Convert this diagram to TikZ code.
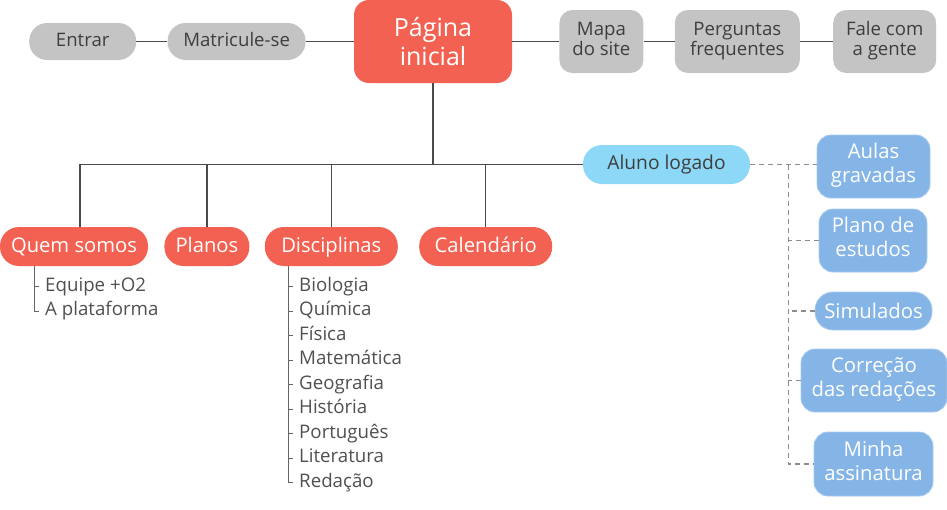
\documentclass[tikz,border=0pt]{standalone}
\usepackage{fontspec}
\setmainfont{Open Sans}
\usetikzlibrary{positioning}

\definecolor{pagered}{HTML}{F26152}
\definecolor{pillgrey}{HTML}{C4C4C4}
\definecolor{pilltext}{HTML}{3E3E3E}
\definecolor{loggedblue}{HTML}{8DD7F7}
\definecolor{boxblue}{HTML}{85B5E7}
\definecolor{boxedge}{HTML}{A6CBF0}
\definecolor{itemtext}{HTML}{505050}
\definecolor{linkgrey}{HTML}{4A4A4A}
\definecolor{dashgrey}{HTML}{8C8C8C}

\tikzset{
	greypill/.style = {fill = pillgrey, text = pilltext, rounded corners = 18pt, minimum height = 37pt, inner sep = 0pt, text height = 14pt, text depth = 5pt, font = \fontsize{18.6}{20}\selectfont},
	greybox/.style = {fill = pillgrey, text = pilltext, rounded corners = 13pt, minimum height = 63pt, inner sep = 0pt, align = center, execute at begin node = \strut, execute at end node = \strut, font = \fontsize{18.6}{20}\selectfont},
	redpill/.style = {fill = pagered, text = white, rounded corners = 19pt, minimum height = 39pt, inner sep = 0pt, text height = 16pt, text depth = 4pt, font = \fontsize{20.2}{24}\selectfont},
	logpill/.style = {fill = loggedblue, text = pilltext, rounded corners = 19pt, minimum height = 39pt, inner sep = 0pt, text height = 14.5pt, text depth = 5pt, font = \fontsize{19.2}{24}\selectfont},
	bluebox/.style = {fill = boxblue, draw = boxedge, line width = 0.8pt, text = white, rounded corners = 14pt, inner sep = 0pt, align = center, execute at begin node = \rule{0pt}{21pt}, execute at end node = \rule[-7pt]{0pt}{7pt}, font = \fontsize{20.3}{24}\selectfont},
	subitem/.style = {text = itemtext, anchor = west, inner xsep = 6pt, inner ysep = 0pt, text height = 13pt, text depth = 4pt, font = \fontsize{18.7}{24}\selectfont},
	link/.style = {draw = linkgrey, line width = 1.2pt},
	sublink/.style = {draw = linkgrey!85, line width = 1pt},
	dashlink/.style = {draw = dashgrey, line width = 1.2pt, dash pattern = on 5pt off 4pt}
}

\begin{document}
\begin{tikzpicture}[x = 1pt, y = -1pt]
	\useasboundingbox (0,0) rectangle (947,509);

	% top row
	\node (home)[fill = pagered, text = white, rounded corners = 15pt, minimum width = 158pt, minimum height = 83pt, inner sep = 0pt, align = center, font = \fontsize{25}{29.5}\selectfont] at (433,41.5) {Página\\inicial};
	\node (matr)[greypill, minimum width = 138pt, anchor = east, xshift = -48pt] at (home.west) {Matricule-se};
	\node (ent)[greypill, minimum width = 107pt, anchor = east, xshift = -31pt] at (matr.west) {Entrar};
	\node (map)[greybox, minimum width = 84pt, anchor = west, xshift = 47pt] at (home.east) {Mapa\\do site};
	\node (faq)[greybox, minimum width = 125pt, anchor = west, xshift = 31pt] at (map.east) {Perguntas\\frequentes};
	\node (fale)[greybox, minimum width = 103pt, anchor = west, xshift = 33pt] at (faq.east) {Fale com\\a gente};

	% second level
	\node (qs)[redpill, minimum width = 148pt] at (74,246.5) {Quem somos};
	\node (pl)[redpill, minimum width = 85pt, anchor = west, xshift = 16pt] at (qs.east) {Planos};
	\node (dis)[redpill, minimum width = 133pt, anchor = west, xshift = 15pt] at (pl.east) {Disciplinas};
	\node (cal)[redpill, minimum width = 133pt, anchor = west, xshift = 21pt] at (dis.east) {Calendário};
	\node (alu)[logpill, minimum width = 167pt] at (666.5,164.5) {Aluno logado};

	% logged area
	\node (aul)[bluebox, minimum width = 113pt, minimum height = 63pt] at (873.5,166.5) {Aulas\\gravadas};
	\node (pe)[bluebox, minimum width = 108pt, minimum height = 63pt] at (873,240.5) {Plano de\\estudos};
	\node (sim)[bluebox, minimum width = 117pt, minimum height = 38pt, rounded corners = 18pt] at (873.5,311) {Simulados};
	\node (cor)[bluebox, minimum width = 146pt, minimum height = 63pt] at (874,380.5) {Correção\\das redações};
	\node (ass)[bluebox, minimum width = 119pt, minimum height = 64pt] at (873.5,464) {Minha\\assinatura};

	% sub lists
	\node (eq)[subitem] at (39,286.5) {Equipe +O2};
	\node (plat)[subitem] at (39,311) {A plataforma};

	\node (bio)[subitem] at (293,286.5) {Biologia};
	\node (qui)[subitem] at (293,311) {Química};
	\node (fis)[subitem] at (293,335.5) {Física};
	\node (mate)[subitem] at (293,360) {Matemática};
	\node (geo)[subitem] at (293,384.5) {Geografia};
	\node (his)[subitem] at (293,409) {História};
	\node (por)[subitem] at (293,433.5) {Português};
	\node (lit)[subitem] at (293,458) {Literatura};
	\node (reda)[subitem] at (293,482.5) {Redação};

	\coordinate (qspine) at ([xshift = -40pt]qs.south);
	\coordinate (dspine) at ([xshift = -42.5pt]dis.south);
	\coordinate (lspine) at ([xshift = 38pt]alu.east);

	% connectors
	\draw [link](ent)--(matr);
	\draw [link](matr)--(home);
	\draw [link](home)--(map);
	\draw [link](map)--(faq);
	\draw [link](faq)--(fale);

	\draw [link](home.south) |- (alu.west);
	\draw [link]([xshift = 6pt]qs.north) |- (alu.west);
	\draw [link](pl.north)--(pl.north |- alu.west);
	\draw [link](dis.north)--(dis.north |- alu.west);
	\draw [link](cal.north)--(cal.north |- alu.west);

	\draw [sublink](qspine) |- (plat.west);
	\draw [sublink](eq.west)--(eq.west -| qspine);
	\draw [sublink](dspine) |- (reda.west);
	\draw [sublink](bio.west)--(bio.west -| dspine);
	\draw [sublink](qui.west)--(qui.west -| dspine);
	\draw [sublink](fis.west)--(fis.west -| dspine);
	\draw [sublink](mate.west)--(mate.west -| dspine);
	\draw [sublink](geo.west)--(geo.west -| dspine);
	\draw [sublink](his.west)--(his.west -| dspine);
	\draw [sublink](por.west)--(por.west -| dspine);
	\draw [sublink](lit.west)--(lit.west -| dspine);

	\draw [dashlink](alu.east)--(alu.east -| aul.west);
	\draw [dashlink](lspine) |- (ass.west);
	\draw [dashlink](pe.west)--(pe.west -| lspine);
	\draw [dashlink](sim.west)--(sim.west -| lspine);
	\draw [dashlink](cor.west)--(cor.west -| lspine);
\end{tikzpicture}
\end{document}
